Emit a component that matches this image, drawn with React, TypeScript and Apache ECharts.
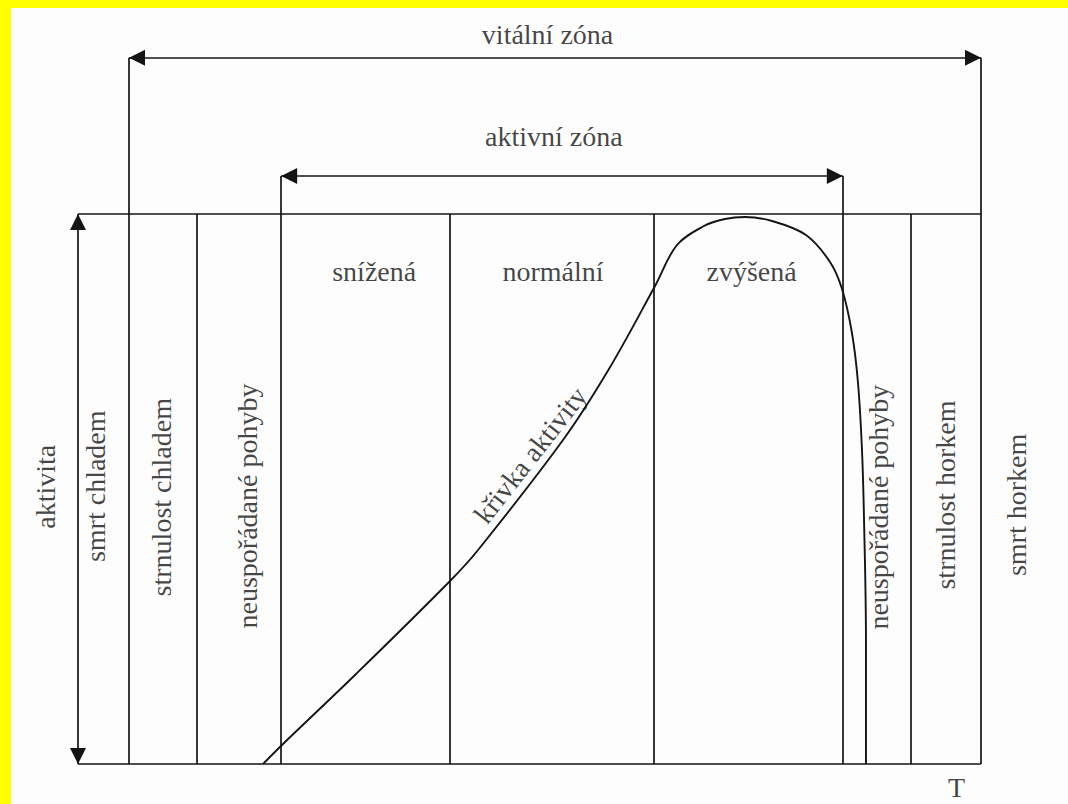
import React, { useEffect, useRef } from "react";
import * as echarts from "echarts";

// ---- data (T = temperature position 0..100, activity 0..100) ----
const activityMax = 100;
const tMax = 100;
const bandEdgesT = [13.2, 41.2, 63.8, 92.2];
const activeZoneT = [22.5, 84.7];
const activeZoneLevel = 106.9;
const vitalZoneT = [5.65, 100];
const vitalZoneLevel = 128.4;

const curveT = [20.49, 22.7, 30.79, 41.2, 44.3, 53.71, 58.8, 63.9, 66.33, 69.32, 71.65, 73.86, 76.85, 80.62, 83.28, 84.61, 85.71, 86.38, 86.82, 87.04, 87.26, 87.26];
const curveActivity = [0, 3.64, 16.36, 33.27, 38.91, 58.91, 71.82, 86.91, 94.36, 97.82, 99.09, 99.45, 98.73, 96.18, 91.27, 86.36, 78.36, 69.27, 57.09, 44.91, 22.55, 0];

const zoneLabels = ["snížená", "normální", "zvýšená"];
const zoneLabelT = [32.8, 52.6, 74.6];
const zoneLabelLevel = 89.5;

const sideLabels = ["aktivita", "smrt chladem", "strnulost chladem", "neuspořádané pohyby", "neuspořádané pohyby", "strnulost horkem", "smrt horkem"];
const sideLabelT = [-3.6, 1.9, 9.2, 18.8, 88.6, 96.1, 103.9];
const sideLabelLevel = [50.4, 50.5, 48.5, 46.9, 46.7, 48.9, 47.1];

const zoneTitles = ["vitální zóna", "aktivní zóna"];
const zoneTitleT = [52.0, 52.7];
const zoneTitleLevel = [132.7, 114.1];

const curveLabel = "křivka aktivity";
const curveLabelT = 50.1;
const curveLabelLevel = 56.2;
const curveLabelAngle = 52;

const axisLabelT = "T";
const axisLabelTPos = [97.3, -4.2];

const INK = "#141414";
const FONT = "'Liberation Serif', 'DejaVu Serif', serif";
const ARROW = "path://M0,0L0,16L-8,32L8,32L0,16Z";

export default function App() {
  const ref = useRef<HTMLDivElement>(null);

  useEffect(() => {
    document.body.style.margin = "0";
    if (!ref.current) return;
    const chart = echarts.init(ref.current, undefined, { renderer: "svg" });

    const plainSegments: any[] = [];
    plainSegments.push({ coords: [[0, activityMax], [tMax, activityMax]] });
    plainSegments.push({ coords: [[0, 0], [tMax, 0]] });
    bandEdgesT.forEach((t) => plainSegments.push({ coords: [[t, 0], [t, activityMax]] }));
    activeZoneT.forEach((t) => plainSegments.push({ coords: [[t, 0], [t, activeZoneLevel]] }));
    vitalZoneT.forEach((t) => plainSegments.push({ coords: [[t, 0], [t, vitalZoneLevel]] }));

    const arrowSegments = [
      { coords: [[0, 0], [0, activityMax]] },
      { coords: [[activeZoneT[0], activeZoneLevel], [activeZoneT[1], activeZoneLevel]] },
      { coords: [[vitalZoneT[0], vitalZoneLevel], [vitalZoneT[1], vitalZoneLevel]] },
    ];

    const baseLabel = {
      show: true,
      position: "inside",
      formatter: "{b}",
      color: INK,
      fontFamily: FONT,
      fontSize: 28,
    };

    const textData: any[] = [];
    zoneLabels.forEach((n, i) => textData.push({ name: n, value: [zoneLabelT[i], zoneLabelLevel] }));
    zoneTitles.forEach((n, i) => textData.push({ name: n, value: [zoneTitleT[i], zoneTitleLevel[i]] }));
    sideLabels.forEach((n, i) =>
      textData.push({ name: n, value: [sideLabelT[i], sideLabelLevel[i]], label: { rotate: 90 } })
    );
    textData.push({ name: curveLabel, value: [curveLabelT, curveLabelLevel], label: { rotate: curveLabelAngle } });
    textData.push({ name: axisLabelT, value: axisLabelTPos });

    chart.setOption({
      animation: false,
      backgroundColor: "transparent",
      grid: { left: 5.76, right: 5.73, top: 16, bottom: 1.5, containLabel: false },
      xAxis: { type: "value", min: -8, max: 109, show: false, splitLine: { show: false } },
      yAxis: { type: "value", min: -7, max: 136, show: false, splitLine: { show: false } },
      series: [
        {
          type: "lines",
          coordinateSystem: "cartesian2d",
          silent: true,
          lineStyle: { color: INK, width: 1.7, opacity: 1 },
          data: plainSegments,
        },
        {
          type: "lines",
          coordinateSystem: "cartesian2d",
          silent: true,
          symbol: [ARROW, ARROW],
          symbolSize: [[16, 32], [16, 32]],
          lineStyle: { color: INK, width: 1.7, opacity: 1 },
          data: arrowSegments,
        },
        {
          type: "line",
          silent: true,
          smooth: 0.35,
          symbol: "none",
          lineStyle: { color: INK, width: 1.9 },
          data: curveT.map((t, i) => [t, curveActivity[i]]),
        },
        {
          type: "scatter",
          silent: true,
          symbol: "circle",
          symbolSize: 1,
          itemStyle: { color: "transparent" },
          label: baseLabel,
          data: textData,
        },
      ],
    });

    return () => chart.dispose();
  }, []);

  return (
    <div style={{ position: "relative", width: 1068, height: 804, background: "#ffff00", overflow: "hidden" }}>
      <div style={{ position: "absolute", left: 11, top: 8, right: 0, bottom: 0, background: "#fdfdfd" }} />
      <div ref={ref} style={{ position: "absolute", left: 0, top: 0, width: 1068, height: 804 }} />
    </div>
  );
}
